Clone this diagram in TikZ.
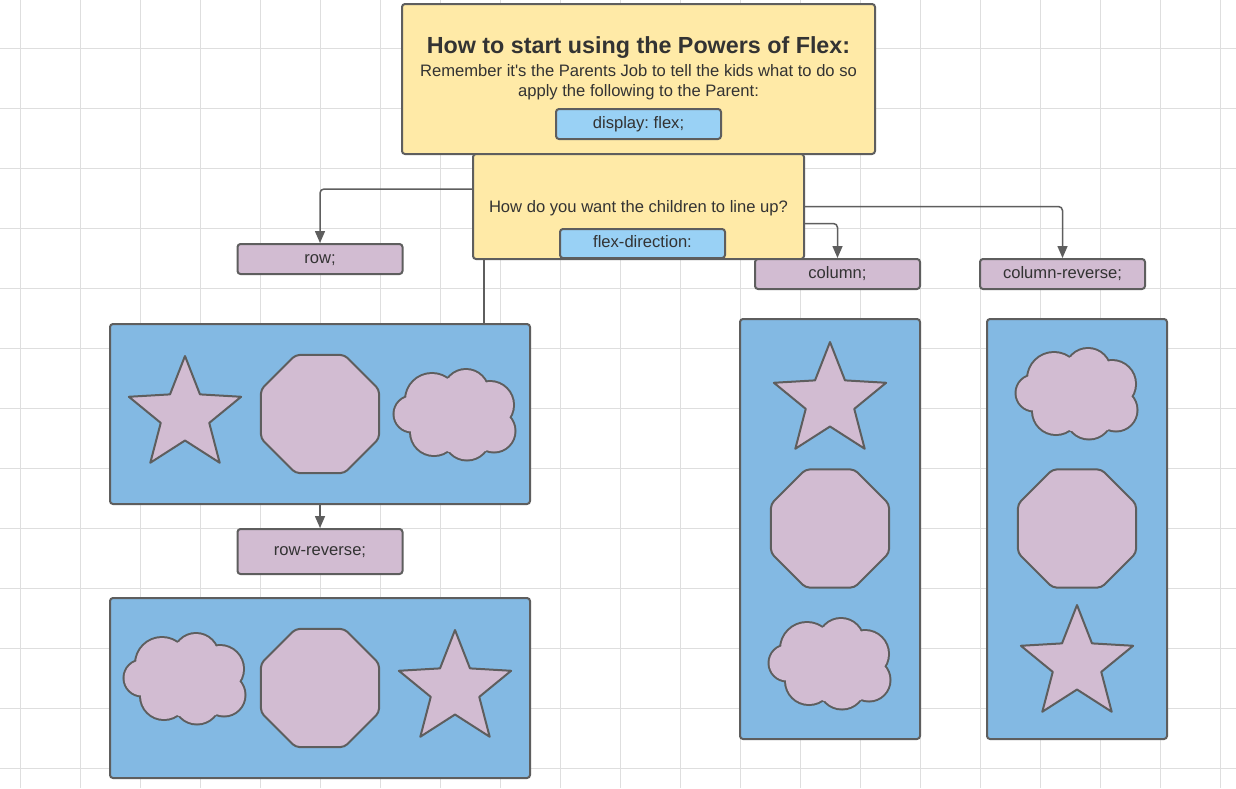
\documentclass[tikz,border=0pt]{standalone}
\usepackage{fontspec}
\setmainfont{Liberation Sans}
\usetikzlibrary{arrows.meta,calc}
\definecolor{gridc}{HTML}{DEDEDE}
\definecolor{edge}{HTML}{5E5E5E}
\definecolor{yel}{HTML}{FFEAA7}
\definecolor{lblue}{HTML}{99D1F5}
\definecolor{bblue}{HTML}{83B9E3}
\definecolor{mauve}{HTML}{D2BCD2}
\definecolor{txt}{HTML}{333333}
\frenchspacing
\newcommand\fsnorm{\fontsize{16.6}{20}\selectfont}
\newcommand\fstitle{\fontsize{23.3}{27}\selectfont\bfseries}
\tikzset{
  fstar/.pic={\draw[shp] (-90:59) -- (-54:25.5) -- (-18:59) -- (18:25.5) -- (54:59) -- (90:25.5) -- (126:59) -- (162:25.5) -- (198:59) -- (234:25.5) -- cycle;},
  foct/.pic={\draw[shp, rounded corners=4pt] (22.5:63.9) -- (67.5:63.9) -- (112.5:63.9) -- (157.5:63.9) -- (202.5:63.9) -- (247.5:63.9) -- (292.5:63.9) -- (337.5:63.9) -- cycle;},
  fcloud/.pic={
    \foreach \cx/\cy/\r in {-42/0/17.5, -22/-14/26, 12/-22/22, 36/-9/23, 40/17/20.5, 13/23/22.5, -20/18/23}
      {\draw[edge, line width=4pt] (\cx,\cy) circle[radius=\r pt];}
    \foreach \cx/\cy/\r in {-42/0/17.5, -22/-14/26, 12/-22/22, 36/-9/23, 40/17/20.5, 13/23/22.5, -20/18/23}
      {\fill[mauve] (\cx,\cy) circle[radius=\r pt];}
    \fill[mauve] (-47,-17) -- (-5,-36) -- (31,-31) -- (55,4) -- (32,37) -- (-5,38) -- (-41,19) -- cycle;
  }
}
\begin{document}
\begin{tikzpicture}[x=1pt,y=-1pt,
  box/.style={draw=edge, line width=2pt, rounded corners=3pt, inner sep=0pt},
  ybox/.style={box, fill=yel},
  lbox/.style={box, fill=lblue, font=\fsnorm, text=txt, text height=12pt, text depth=4pt, minimum width=165pt, minimum height=30pt},
  mbox/.style={box, fill=mauve, font=\fsnorm, text=txt, text height=12pt, text depth=4pt, minimum width=165pt, minimum height=30pt},
  bbox/.style={box, fill=bblue},
  conn/.style={draw=edge, line width=1.5pt, rounded corners=4pt},
  arr/.style={conn, -{Triangle[length=12pt,width=10pt]}},
  txtn/.style={text=txt, inner sep=0pt, font=\fsnorm, anchor=base},
  shp/.style={draw=edge, fill=mauve, line width=2pt, line join=round}
]
\useasboundingbox (0,0) rectangle (1236,788);
\fill[white] (0,0) rectangle (1236,788);
% grid
\foreach \gx in {20,80,...,1220} {\draw[gridc, line width=1pt] (\gx,0) -- (\gx,788);}
\foreach \gy in {48,108,...,768} {\draw[gridc, line width=1pt] (0,\gy) -- (1236,\gy);}

% yellow boxes
\node[ybox, minimum width=473pt, minimum height=150pt] (tbox) at (638.5,79) {};
\node[ybox, minimum width=331pt, minimum height=105pt] (qbox) at (638.5,206.5) {};
\node[txtn, font=\fstitle] (title) at (638.5,53) {How to start using the Powers of Flex:};
\node[txtn] (sub1) at (638.5,76) {Remember it\textquotesingle s the Parents Job to tell the kids what to do so};
\node[txtn] (sub2) at (638.5,96) {apply the following to the Parent:};
\node[lbox] (disp) at (638.5,124) {display: flex;};
\node[txtn] (question) at (638.5,212) {How do you want the children to line up?};
\node[lbox, minimum height=29pt] (fdir) at (642.5,243.5) {flex-direction:};

% labels
\node[mbox] (row) at (320,259) {row;};
\node[mbox] (col) at (837.5,274) {column;};
\node[mbox] (colrev) at (1062.5,274) {column-reverse;};
\node[mbox, minimum height=45pt] (rowrev) at (320,551.5) {row-reverse;};

% blue containers
\node[bbox, minimum width=420pt, minimum height=180pt] (rowbox) at (320,414) {};
\node[bbox, minimum width=420pt, minimum height=180pt] (rowrevbox) at (320,688) {};
\node[bbox, minimum width=180pt, minimum height=420pt] (colbox) at (830,529) {};
\node[bbox, minimum width=180pt, minimum height=420pt] (colrevbox) at (1077,529) {};

% children
\pic at (185,415) {fstar};
\pic at (320,414) {foct};
\pic at (454,414) {fcloud};

\pic at (184,678) {fcloud};
\pic at (320,688) {foct};
\pic at (455,689) {fstar};

\pic at (830,401) {fstar};
\pic at (830,528.5) {foct};
\pic at (829,663) {fcloud};

\pic at (1076,393) {fcloud};
\pic at (1077,528.5) {foct};
\pic at (1077,664) {fstar};

% connectors
\draw[arr] ([yshift=17.5pt]qbox.west) -| (row.north);
\draw[arr] ([yshift=-17pt]qbox.east) -| (col.north);
\draw[arr] (qbox.east) -| (colrev.north);
\coordinate (qa) at ([xshift=12pt]qbox.south west);
\draw[conn] (qa) -- (qa |- rowbox.north);
\draw[arr] (rowbox.south) -- (rowrev.north);
\end{tikzpicture}
\end{document}
